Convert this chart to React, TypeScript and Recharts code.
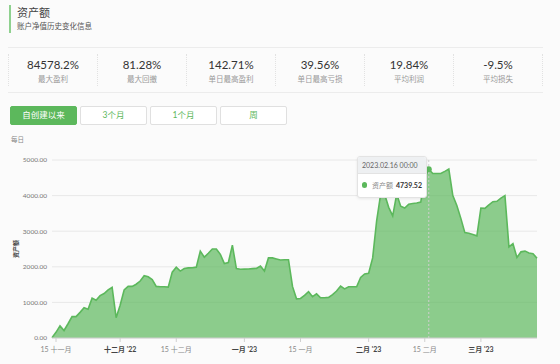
import React from "react";
import {
  AreaChart,
  Area,
  XAxis,
  YAxis,
  CartesianGrid,
  Tooltip,
} from "recharts";

const FONT = "Lato, 'Noto Sans CJK SC', sans-serif";
const GREEN = "#5cb85c";

// daily equity, starting 2022-11-14
const startDate = "2022-11-14";
const equity = [
  10, 160, 340, 210, 400, 600, 600, 720, 850, 810,
  1120, 1060, 1190, 1250, 1350, 1420, 570, 920, 1350, 1450,
  1450, 1510, 1600, 1750, 1720, 1640, 1450, 1440, 1440, 1430,
  1850, 1990, 1880, 1950, 1970, 1975, 1990, 2440, 2270, 2380,
  2500, 2500, 2350, 2090, 2120, 2610, 1950, 1930, 1935, 1940,
  1950, 1955, 2020, 1880, 2250, 2250, 2220, 2190, 2200, 2200,
  1450, 1100, 1110, 1200, 1300, 1160, 1240, 1130, 1130, 1140,
  1220, 1320, 1460, 1380, 1440, 1440, 1440, 1700, 1800, 1820,
  2250, 3300, 4040, 4030, 3670, 3430, 4040, 3700, 3650, 3760,
  3780, 3790, 3820, 4500, 4739.52, 4620, 4620, 4620, 4680, 4745,
  4000, 3720, 3360, 2960, 2940, 2910, 2870, 3650, 3640, 3740,
  3830, 3840, 3930, 4000, 2560, 2650, 2260, 2420, 2440, 2390,
  2370, 2240,
];

const tickDates = [
  "2022-11-15",
  "2022-12-01",
  "2022-12-15",
  "2023-01-01",
  "2023-01-15",
  "2023-02-01",
  "2023-02-15",
  "2023-03-01",
];
const tickLabels = [
  "15 十一月",
  "十二月 '22",
  "15 十二月",
  "一月 '23",
  "15 一月",
  "二月 '23",
  "15 二月",
  "三月 '23",
];
const yTicks = [0, 1000, 2000, 3000, 4000, 5000];

const statValues = ["84578.2%", "81.28%", "142.71%", "39.56%", "19.84%", "-9.5%"];
const statLabels = ["最大盈利", "最大回撤", "单日最高盈利", "单日最高亏损", "平均利润", "平均损失"];
const rangeButtons = ["自创建以来", "3个月", "1个月", "周"];

const activeIndex = 94;

function dayString(i: number) {
  const d = new Date(startDate + "T00:00:00Z");
  d.setUTCDate(d.getUTCDate() + i);
  return d.toISOString().slice(0, 10);
}

const data = equity.map((v, i) => ({ date: dayString(i), value: v }));

function XTick(props: any) {
  const { x, y, payload } = props;
  const idx = tickDates.indexOf(payload.value);
  const label = idx >= 0 ? tickLabels[idx] : payload.value;
  const isMonth = !label.startsWith("15");
  return (
    <text
      x={x}
      y={y}
      dy={7}
      textAnchor="middle"
      fontSize={7}
      fontFamily={FONT}
      fontWeight={isMonth ? 700 : 400}
      fill={isMonth ? "#444" : "#888"}
    >
      {label}
    </text>
  );
}

function TipContent({ active, payload, label }: any) {
  if (!active || !payload || !payload.length) return null;
  const v = Number(payload[0].value).toFixed(2);
  const l = String(label).replace(/-/g, ".") + " 00:00";
  return (
    <div
      style={{
        width: 68,
        border: "1px solid #e3e3e3",
        borderRadius: 3,
        background: "#fff",
        fontFamily: FONT,
        overflow: "hidden",
        boxShadow: "0 1px 3px rgba(0,0,0,0.08)",
      }}
    >
      <div
        style={{
          background: "#eef0f2",
          color: "#666",
          fontSize: 7,
          padding: "4px 4px",
          borderBottom: "1px solid #e3e3e3",
          whiteSpace: "nowrap",
        }}
      >
        {l}
      </div>
      <div
        style={{
          display: "flex",
          alignItems: "center",
          padding: "6px 4px 7px",
          fontSize: 7,
          whiteSpace: "nowrap",
        }}
      >
        <span
          style={{
            width: 6,
            height: 6,
            borderRadius: 3,
            background: GREEN,
            marginRight: 5,
            display: "inline-block",
          }}
        />
        <span style={{ color: "#888", marginRight: 3 }}>资产额</span>
        <span style={{ color: "#333", fontWeight: 700 }}>{v}</span>
      </div>
    </div>
  );
}

export default function App() {
  return (
    <div
      style={{
        position: "fixed",
        left: 0,
        top: 0,
        width: 560,
        height: 364,
        background: "#fbfbfb",
        fontFamily: FONT,
        overflow: "hidden",
      }}
    >
      {/* title */}
      <div
        style={{
          position: "absolute",
          left: 9,
          top: 5,
          height: 28,
          borderLeft: "2px solid #8fd18f",
          paddingLeft: 6,
        }}
      >
        <div style={{ fontSize: 11, color: "#444", lineHeight: "16px" }}>资产额</div>
        <div style={{ fontSize: 7.5, color: "#555", lineHeight: "12px" }}>
          账户净值历史变化信息
        </div>
      </div>

      {/* stats */}
      <div
        style={{
          position: "absolute",
          left: 8,
          top: 47,
          width: 535,
          height: 44,
          borderTop: "1px solid #ececec",
          borderBottom: "1px solid #ececec",
          display: "flex",
        }}
      >
        {statValues.map((v, i) => (
          <div
            key={v}
            style={{
              flex: 1,
              borderLeft: "1px dotted #e2e2e2",
              borderRight: i === statValues.length - 1 ? "1px dotted #e2e2e2" : "none",
              margin: "6px 0",
              textAlign: "center",
            }}
          >
            <div style={{ fontSize: 11.5, color: "#333", lineHeight: "14px", marginTop: 4 }}>{v}</div>
            <div style={{ fontSize: 7.5, color: "#999", lineHeight: "12px", marginTop: 2 }}>
              {statLabels[i]}
            </div>
          </div>
        ))}
      </div>

      {/* range buttons */}
      {rangeButtons.map((b, i) => (
        <div
          key={b}
          style={{
            position: "absolute",
            left: 10 + i * 70,
            top: 106,
            width: 67,
            height: 19,
            boxSizing: "border-box",
            borderRadius: 2,
            border: i === 0 ? `1px solid ${GREEN}` : "1px solid #e0e0e0",
            background: i === 0 ? GREEN : "#fff",
            color: i === 0 ? "#fff" : GREEN,
            fontSize: 8.5,
            lineHeight: "17px",
            textAlign: "center",
          }}
        >
          {b}
        </div>
      ))}

      <div
        style={{
          position: "absolute",
          left: 11,
          top: 134,
          fontSize: 6.5,
          color: "#888",
        }}
      >
        每日
      </div>

      <div style={{ position: "absolute", left: 0, top: 128 }}>
        <AreaChart
          width={560}
          height={236}
          data={data}
          margin={{ top: 32, right: 23, bottom: 0, left: 0 }}
        >
          <CartesianGrid vertical={false} stroke="#e8e8e8" />
          <XAxis
            dataKey="date"
            ticks={tickDates}
            interval={0}
            tick={<XTick />}
            height={26}
            tickSize={4}
            tickMargin={3}
            stroke="#d0d0d0"
          />
          <YAxis
            domain={[0, 5000]}
            ticks={yTicks}
            width={52}
            axisLine={false}
            tickLine={false}
            tickSize={3}
            tickMargin={2}
            tickFormatter={(v) => Number(v).toFixed(2)}
            tick={{ fontSize: 6.5, fill: "#777", fontFamily: FONT }}
            label={{
              value: "资产额",
              angle: -90,
              position: "center",
              dx: -10,
              fontSize: 6,
              fontWeight: 700,
              fill: "#444",
            }}
          />
          <Tooltip
            defaultIndex={activeIndex}
            isAnimationActive={false}
            position={{ x: 357, y: 28 }}
            cursor={{ stroke: "#cfcfcf", strokeDasharray: "2 2", strokeWidth: 1 }}
            content={<TipContent />}
            wrapperStyle={{ outline: "none" }}
          />
          <Area
            type="linear"
            dataKey="value"
            stroke={GREEN}
            strokeWidth={1.6}
            fill={GREEN}
            fillOpacity={0.7}
            dot={false}
            activeDot={{ r: 3, fill: GREEN, stroke: "#fff", strokeWidth: 0 }}
            isAnimationActive={false}
          />
        </AreaChart>
      </div>
    </div>
  );
}
